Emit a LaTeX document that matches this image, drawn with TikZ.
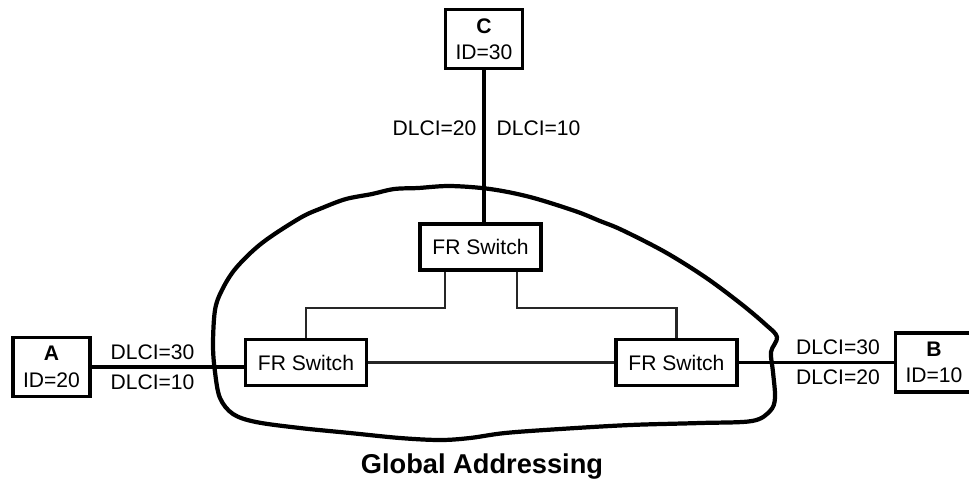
\documentclass[tikz,border=0pt]{standalone}
\usepackage{fontspec}
\setmainfont{Liberation Sans}
\usetikzlibrary{positioning}

\begin{document}
\begin{tikzpicture}[
  x=0.02cm, y=-0.02cm,
  font=\fontsize{12}{15}\selectfont,
  site/.style={draw, line width=2pt, align=center, inner sep=1pt,
               minimum width=1.54cm, minimum height=1.18cm},
  switch/.style={draw, line width=2pt, minimum width=2.42cm,
                 minimum height=0.92cm},
  trunk/.style={line width=2pt},
  branch/.style={line width=1.2pt, black!85},
  cloud/.style={line width=2.4pt, line join=round}
]
\useasboundingbox (0,0) rectangle (969,485);
% frame relay cloud
\draw[cloud] plot[smooth cycle, tension=0.55] coordinates {
  (213,345) (215,310) (222,290) (236,268) (262,243) (300,218) (322,208)
  (346,199) (372,194) (394,189) (418,188) (450,186) (490,189) (530,197)
  (575,211) (600,221) (622,230) (665,252) (705,277) (740,303) (765,324)
  (777,337) (771,352) (773,372) (775,398) (770,411) (752,421) (700,423)
  (630,425) (560,429) (505,433) (470,438) (440,440) (400,438) (350,433)
  (300,428) (256,422) (233,414) (220,398) (215,372)};
% switches
\node[switch] (top) at (480.5,247) {FR Switch};
\node[switch] (left) at (306,362.5) {FR Switch};
\node[switch, right=4.92cm of left] (right) {FR Switch};
% sites
\node[site] (C) at (484,39) {\textbf{C}\\ID=30};
\node[site] (A) at (51.5,367) {\textbf{A}\\ID=20};
\node[site] (B) at (934,362.5) {\textbf{B}\\ID=10};
% access links
\draw[trunk] (C) -- (C |- top.north)
  node[pos=0.38, left] {DLCI=20} node[pos=0.38, right, xshift=0.1cm] {DLCI=10};
\draw[trunk] (A.east) -- (A.east -| left.west)
  node[pos=0.4, above] {DLCI=30} node[pos=0.4, below] {DLCI=10};
\draw[trunk] (right.east) -- (right.east -| B.west)
  node[pos=0.64, above] {DLCI=30} node[pos=0.64, below] {DLCI=20};
% trunks inside the cloud
\draw[branch] ([xshift=-0.71cm]top.south) -- ++(0,36) -| (left.north);
\draw[branch] ([xshift=0.73cm]top.south) -- ++(0,36) -| (right.north);
\draw[branch] (left) -- (right);
\node[font=\fontsize{15.5}{18}\selectfont\bfseries] (title) at (482,467)
  {Global Addressing};
\end{tikzpicture}
\end{document}
